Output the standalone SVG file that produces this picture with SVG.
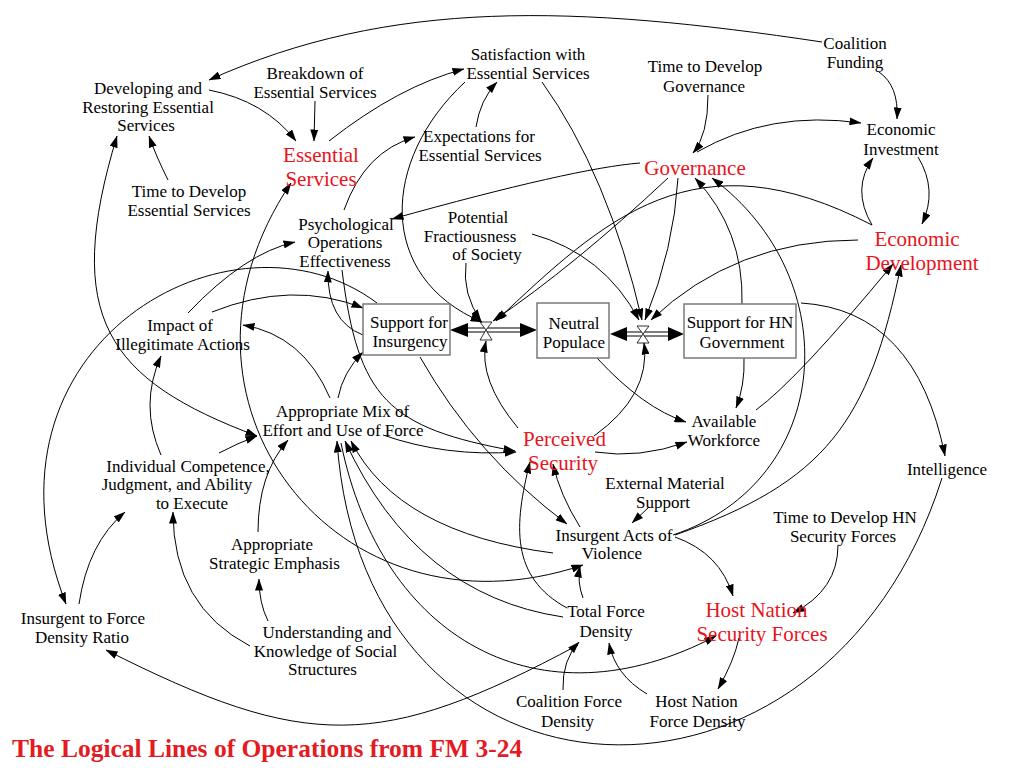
<svg xmlns="http://www.w3.org/2000/svg" width="1024" height="768" viewBox="0 0 1024 768">
<defs>
<style>
.t{font-family:"Liberation Serif","DejaVu Serif","Times New Roman",serif;font-size:17px;fill:#000;text-anchor:middle}
.r{font-family:"Liberation Serif","DejaVu Serif","Times New Roman",serif;font-size:21px;fill:#e8141c;text-anchor:middle}
.c{fill:none;stroke:#000;stroke-width:1;marker-end:url(#ah)}
.b{marker-start:url(#ah)}
.box{fill:#fff;stroke:#7a7a7a;stroke-width:1.5}
.pipe{stroke:#000;stroke-width:1.2;fill:none}
.ph{fill:#000}
.valve{fill:#fff;stroke:#000;stroke-width:0.8}
</style>
<marker id="ah" viewBox="0 0 12 8" refX="11.5" refY="4" markerWidth="12" markerHeight="8" markerUnits="userSpaceOnUse" orient="auto-start-reverse"><path d="M0,0 L12,4 L0,8 z" fill="#000"/></marker>
</defs>
<rect width="1024" height="768" fill="#fff"/>

<g id="flows">
<path class="pipe" d="M466,328 H522 M466,332 H522"/>
<polygon class="ph" points="450,330 468,323 468,337"/>
<polygon class="ph" points="537,330 520,323 520,337"/>
<polygon class="valve" points="480,322 492,322 486,330"/>
<polygon class="valve" points="486,330 480,340 492,340"/>
<path class="pipe" d="M625,332 H670 M625,336 H670"/>
<polygon class="ph" points="610,334 627,327 627,341"/>
<polygon class="ph" points="684,334 668,327 668,341"/>
<polygon class="valve" points="637,326 649,326 643,334"/>
<polygon class="valve" points="643,334 637,343 649,343"/>
</g>

<g id="connectors">
<path class="c" d="M822,42 C576,5 391,-2 209,80"/>
<path class="c" d="M879,72 Q899,86 897,119"/>
<path class="c" d="M209,90 Q265,101 296,141"/>
<path class="c" d="M315,101 L314,141"/>
<path class="c" d="M329,141 Q399,86 464,69"/>
<path class="c" d="M168,180 Q156,156 149,136"/>
<path class="c b" d="M117,136 C62,317 107,380 257,436"/>
<path class="c" d="M161,455 Q139,405 161,356"/>
<path class="c" d="M219,453 Q238,443 257,436"/>
<path class="c" d="M258,532 Q258,474 288,440"/>
<path class="c" d="M268,621 Q259,603 259,579"/>
<path class="c" d="M250,646 Q173,606 173,512"/>
<path class="c" d="M79,604 Q88,543 125,512"/>
<path class="c" d="M377,303 C233,195 -35,344 66,604"/>
<path class="c" d="M188,313 Q245,253 295,242"/>
<path class="c" d="M212,312 Q292,280 363,308"/>
<path class="c" d="M330,398 Q303,335 243,325"/>
<path class="c" d="M338,398 Q343,372 363,352"/>
<path class="c" d="M363,335 Q327,321 328,271"/>
<path class="c" d="M342,270 C358,399 388,428 515,451"/>
<path class="c" d="M383,435 Q446,457 516,452"/>
<path class="c" d="M595,452 Q639,459 687,442"/>
<path class="c" d="M597,358 Q643,408 686,422"/>
<path class="c" d="M744,358 Q745,385 736,408"/>
<path class="c" d="M756,410 Q798,379 893,264"/>
<path class="c" d="M675,535 C826,482 869,422 901,265"/>
<path class="c" d="M673,535 C834,481 848,279 712,178"/>
<path class="c" d="M476,127 Q480,100 497,82"/>
<path class="c" d="M344,210 Q365,151 415,137"/>
<path class="c" d="M640,163 Q575,168 392,219"/>
<path class="c" d="M708,95 Q708,135 693,153"/>
<path class="c" d="M697,152 Q770,110 861,123"/>
<path class="c" d="M872,225 Q851,189 873,158"/>
<path class="c" d="M918,157 Q938,190 922,224"/>
<path class="c" d="M742,304 Q744,230 695,178"/>
<path class="c" d="M801,303 Q916,310 945,456"/>
<path class="c" d="M942,478 C825,848 364,831 337,441"/>
<path class="c" d="M341,443 C381,639 539,729 716,636"/>
<path class="c" d="M553,553 Q398,533 351,441"/>
<path class="c" d="M563,617 Q416,595 345,441"/>
<path class="c" d="M567,608 C510,577 514,525 530,462"/>
<path class="c" d="M580,527 Q560,495 553,464"/>
<path class="c" d="M420,357 Q477,457 567,524"/>
<path class="c" d="M648,508 L632,523"/>
<path class="c" d="M675,537 Q720,553 733,596"/>
<path class="c" d="M838,545 Q838,590 793,613"/>
<path class="c" d="M739,638 Q734,661 718,689"/>
<path class="c" d="M647,694 Q615,675 609,643"/>
<path class="c" d="M563,690 Q562,660 579,642"/>
<path class="c" d="M583,598 Q577,582 580,566"/>
<path class="c" d="M578,645 C380,751 306,751 106,650"/>
<path class="c b" d="M583,565 C336,648 145,399 291,183"/>
<path class="c" d="M518,428 Q478,380 486,341"/>
<path class="c" d="M594,436 Q651,395 644,343"/>
<path class="c" d="M466,263 Q462,294 481,321"/>
<path class="c" d="M532,234 Q604,254 639,320"/>
<path class="c" d="M668,178 Q574,266 493,321"/>
<path class="c" d="M678,178 Q674,248 645,320"/>
<path class="c" d="M872,225 C695,133 605,218 496,321"/>
<path class="c" d="M858,240 Q735,240 651,320"/>
<path class="c" d="M465,82 C381,160 376,277 482,322"/>
<path class="c" d="M542,82 Q608,174 642,320"/>
</g>

<g id="support-insurgency"><rect class="box" x="363" y="304" width="87" height="51"/><text class="t"><tspan x="409" y="328">Support for</tspan><tspan x="410" y="346.5">Insurgency</tspan></text></g>
<g id="neutral-populace"><rect class="box" x="537" y="303" width="72" height="55"/><text class="t"><tspan x="574" y="328.5">Neutral</tspan><tspan x="574" y="347.5">Populace</tspan></text></g>
<g id="support-hn"><rect class="box" x="684" y="304" width="112" height="54"/><text class="t"><tspan x="740" y="328">Support for HN</tspan><tspan x="742" y="348">Government</tspan></text></g>

<g id="coalition-funding"><text class="t"><tspan x="855" y="49">Coalition</tspan><tspan x="855" y="68">Funding</tspan></text></g>
<g id="developing-restoring"><text class="t"><tspan x="148" y="94">Developing and</tspan><tspan x="148" y="112.5">Restoring Essential</tspan><tspan x="146" y="131">Services</tspan></text></g>
<g id="breakdown"><text class="t"><tspan x="315" y="79">Breakdown of</tspan><tspan x="315" y="98">Essential Services</tspan></text></g>
<g id="satisfaction"><text class="t"><tspan x="528" y="60">Satisfaction with</tspan><tspan x="528" y="79">Essential Services</tspan></text></g>
<g id="time-governance"><text class="t"><tspan x="705" y="72">Time to Develop</tspan><tspan x="704" y="91.5">Governance</tspan></text></g>
<g id="economic-investment"><text class="t"><tspan x="901" y="135">Economic</tspan><tspan x="901" y="154.5">Investment</tspan></text></g>
<g id="expectations"><text class="t"><tspan x="479" y="142">Expectations for</tspan><tspan x="480" y="161">Essential Services</tspan></text></g>
<g id="essential-services"><text class="r"><tspan x="321" y="162">Essential</tspan><tspan x="321" y="185.5">Services</tspan></text></g>
<g id="governance"><text class="r" x="695" y="175">Governance</text></g>
<g id="economic-development"><text class="r"><tspan x="917" y="246">Economic</tspan><tspan x="922" y="269.5">Development</tspan></text></g>
<g id="time-essential"><text class="t"><tspan x="189" y="197">Time to Develop</tspan><tspan x="189" y="215.5">Essential Services</tspan></text></g>
<g id="psyops"><text class="t"><tspan x="346" y="229.5">Psychological</tspan><tspan x="345" y="248">Operations</tspan><tspan x="345" y="266.5">Effectiveness</tspan></text></g>
<g id="fractiousness"><text class="t"><tspan x="478" y="223">Potential</tspan><tspan x="470" y="241.5">Fractiousness</tspan><tspan x="487" y="260">of Society</tspan></text></g>
<g id="impact"><text class="t"><tspan x="180" y="330.5">Impact of</tspan><tspan x="182.5" y="349.5">Illegitimate Actions</tspan></text></g>
<g id="appropriate-mix"><text class="t"><tspan x="342.5" y="417">Appropriate Mix of</tspan><tspan x="343" y="435.5">Effort and Use of Force</tspan></text></g>
<g id="perceived-security"><text class="r"><tspan x="564.5" y="446">Perceived</tspan><tspan x="563" y="469.5">Security</tspan></text></g>
<g id="available-workforce"><text class="t"><tspan x="724" y="427">Available</tspan><tspan x="724" y="445.5">Workforce</tspan></text></g>
<g id="intelligence"><text class="t" x="947" y="475">Intelligence</text></g>
<g id="external-support"><text class="t"><tspan x="665" y="489">External Material</tspan><tspan x="663" y="508">Support</tspan></text></g>
<g id="individual-competence"><text class="t"><tspan x="188" y="471.5">Individual Competence,</tspan><tspan x="177" y="490">Judgment, and Ability</tspan><tspan x="192" y="508.5">to Execute</tspan></text></g>
<g id="insurgent-acts"><text class="t"><tspan x="614" y="540.5">Insurgent Acts of</tspan><tspan x="612" y="559">Violence</tspan></text></g>
<g id="time-hn-forces"><text class="t"><tspan x="845" y="523">Time to Develop HN</tspan><tspan x="843" y="542">Security Forces</tspan></text></g>
<g id="strategic-emphasis"><text class="t"><tspan x="272" y="550">Appropriate</tspan><tspan x="274.5" y="569">Strategic Emphasis</tspan></text></g>
<g id="force-ratio"><text class="t"><tspan x="83" y="624">Insurgent to Force</tspan><tspan x="82" y="643">Density Ratio</tspan></text></g>
<g id="understanding"><text class="t"><tspan x="327" y="638">Understanding and</tspan><tspan x="325.5" y="656.5">Knowledge of Social</tspan><tspan x="322.5" y="675">Structures</tspan></text></g>
<g id="total-force"><text class="t"><tspan x="606" y="617">Total Force</tspan><tspan x="606" y="636.5">Density</tspan></text></g>
<g id="hn-security-forces"><text class="r"><tspan x="756.5" y="617">Host Nation</tspan><tspan x="762" y="640.5">Security Forces</tspan></text></g>
<g id="coalition-force"><text class="t"><tspan x="569" y="707">Coalition Force</tspan><tspan x="567.5" y="726.5">Density</tspan></text></g>
<g id="hn-force"><text class="t"><tspan x="696.5" y="707">Host Nation</tspan><tspan x="697.5" y="726.5">Force Density</tspan></text></g>

<g id="title"><text x="12" y="757" font-family="'Liberation Serif','DejaVu Serif','Times New Roman',serif" font-weight="bold" font-size="25.5" fill="#e31b23">The Logical Lines of Operations from FM 3-24</text></g>
</svg>
